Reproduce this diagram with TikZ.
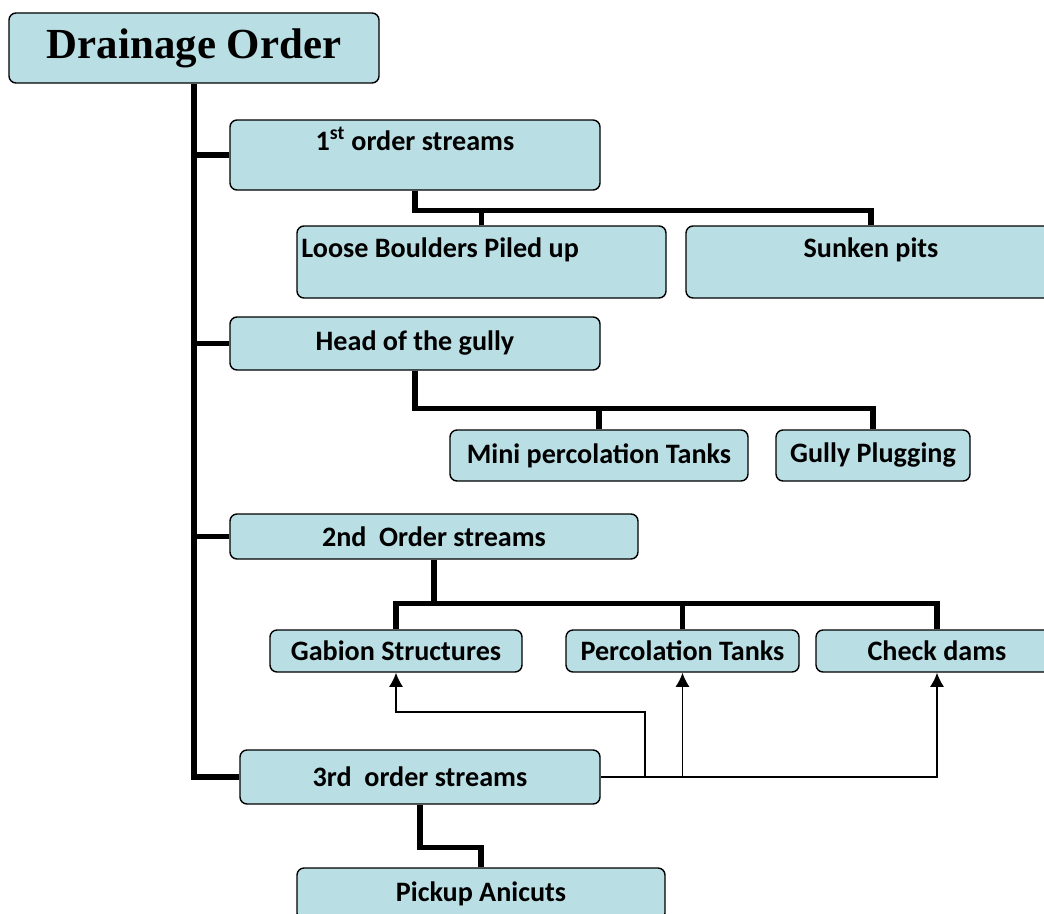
\documentclass[tikz,border=0pt]{standalone}
\usepackage{fontspec}
\setmainfont{Carlito}
\newfontfamily\titlefont{Liberation Serif}
\usetikzlibrary{arrows.meta}
\definecolor{boxfill}{RGB}{185,222,228}
\def\px{0.025cm}
\begin{document}
\begin{tikzpicture}[x=\px,y=-\px,>={Latex[length=10pt,width=10pt]},
  box/.style={draw,line width=1pt,rounded corners=5pt,fill=boxfill,inner sep=3pt,
    font=\bfseries\fontsize{20}{23}\selectfont},
  wh/.style 2 args={minimum width=#1*\px,minimum height=#2*\px},
  tall/.style={text height=14pt,text depth=21pt},
  trunk/.style={line width=3.8pt},
  feed/.style={->,line width=1.3pt}]
  \useasboundingbox (0,0) rectangle (1044,913);
  \clip (0,0) rectangle (1044,913);
  % boxes
  \node[box,wh={370}{70},font=\titlefont\bfseries\fontsize{30.5}{33}\selectfont] (order) at (194,48) {Drainage Order};
  \node[box,wh={370}{70},tall] (first) at (415,155) {1\textsuperscript{st} order streams};
  \node[box,wh={369}{72},tall,text width=9cm,align=flush left] (boulders) at (481.5,262) {Loose Boulders Piled up};
  \node[box,wh={370}{72},tall] (pits) at (871,262) {Sunken pits};
  \node[box,wh={370}{53}] (head) at (415,343.5) {Head of the gully};
  \node[box,wh={298}{51}] (minitank) at (599,455.5) {Mini percolation Tanks};
  \node[box,wh={194}{51}] (plug) at (873,455.5) {Gully Plugging};
  \node[box,wh={408}{45}] (second) at (434,536.5) {2nd\ \ Order streams};
  \node[box,wh={252}{42}] (gabion) at (396,651) {Gabion Structures};
  \node[box,wh={233}{42}] (perc) at (682.5,651) {Percolation Tanks};
  \node[box,wh={242}{42}] (check) at (937,651) {Check dams};
  \node[box,wh={360}{54}] (third) at (420,777) {3rd\ \ order streams};
  \node[box,wh={368}{52}] (anicut) at (481,894) {Pickup Anicuts};
  % tree lines
  \draw[trunk] (order.south) |- (third.west);
  \foreach \n in {first,head,second} \draw[trunk] (order.south |- \n.west) -- (\n.west);
  \draw[trunk] (first.south) -- ++(0,20) coordinate (firstbus) -| (pits.north);
  \draw[trunk] (boulders.north) -- (boulders.north |- firstbus);
  \draw[trunk] (head.south) -- ++(0,38) coordinate (headbus) -| (plug.north);
  \draw[trunk] (minitank.north) -- (minitank.north |- headbus);
  \draw[trunk] (second.south) -- ++(0,44) coordinate (secondbus);
  \draw[trunk] (gabion.north) |- (secondbus) -| (check.north);
  \draw[trunk] (perc.north) -- (perc.north |- secondbus);
  \draw[trunk] (third.south) -- ++(0,43) -| (anicut.north);
  % arrows from 3rd order
  \draw[feed] (third.east) -| (check.south);
  \draw[feed] (perc.south |- third.east) -- (perc.south);
  \draw[feed] (third.east) ++(44,0) -- ++(0,-65) -| (gabion.south);
\end{tikzpicture}
\end{document}
